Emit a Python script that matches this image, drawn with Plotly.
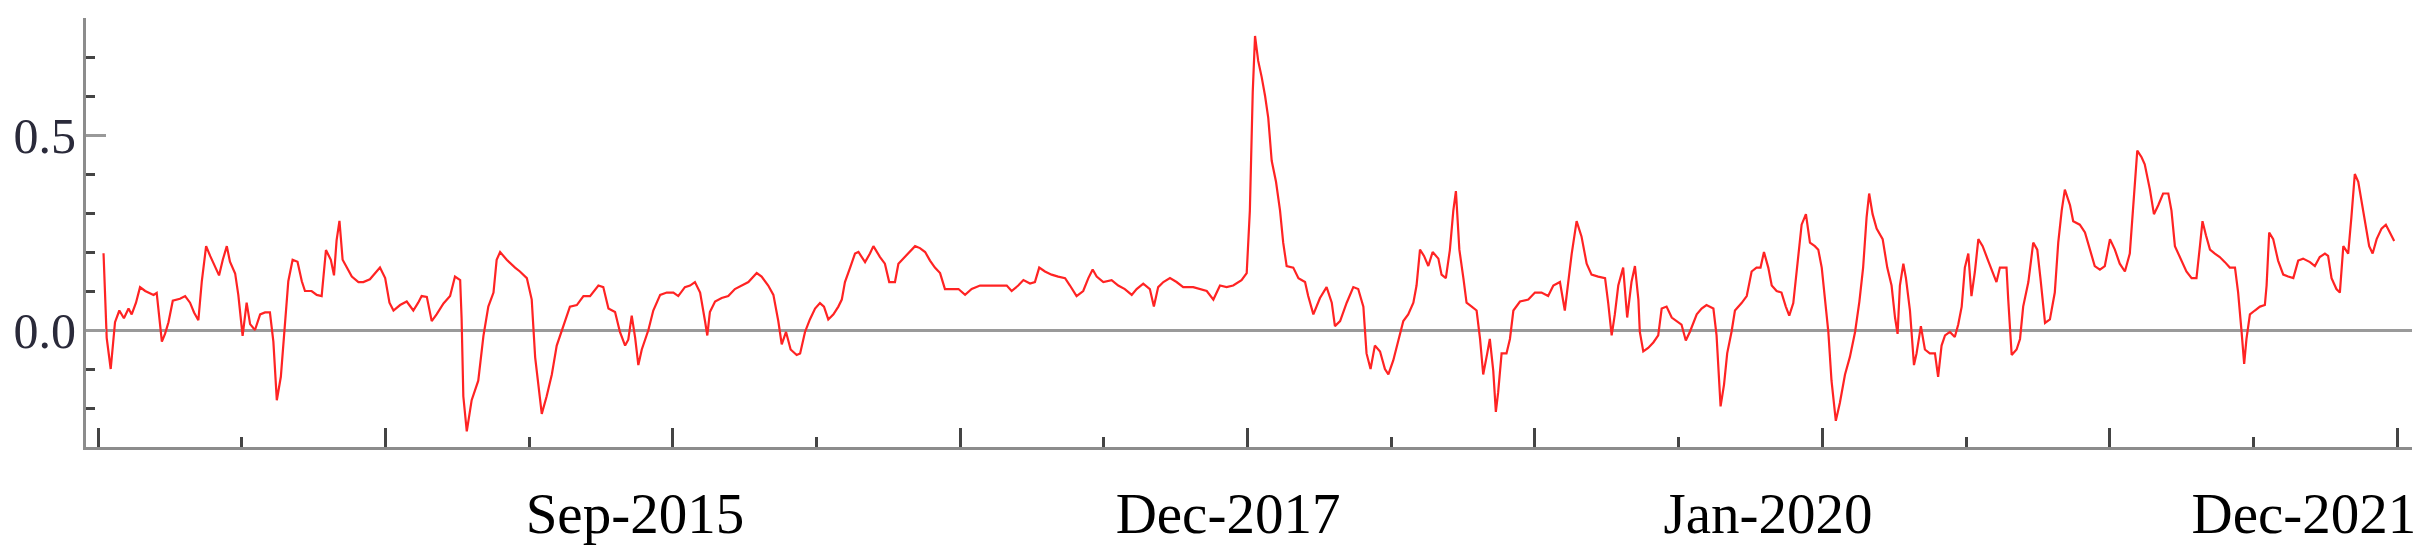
import plotly.graph_objects as go

# time in decimal years, value of the series
years = [
2014.019,2014.030,2014.044,2014.059,2014.074,2014.090,2014.106,2014.117,2014.132,2014.146,
2014.164,2014.193,2014.204,2014.222,2014.233,2014.245,2014.260,2014.285,2014.303,2014.320,
2014.334,2014.349,2014.361,2014.376,2014.390,2014.407,2014.421,2014.434,2014.448,2014.459,
2014.477,2014.488,2014.503,2014.517,2014.529,2014.546,2014.564,2014.581,2014.598,2014.610,
2014.622,2014.636,2014.651,2014.662,2014.677,2014.694,2014.709,2014.720,2014.743,2014.761,
2014.778,2014.793,2014.810,2014.821,2014.830,2014.840,2014.851,2014.865,2014.883,2014.906,
2014.923,2014.946,2014.964,2014.981,2014.999,2015.014,2015.028,2015.051,2015.074,2015.097,
2015.114,2015.126,2015.144,2015.161,2015.178,2015.202,2015.225,2015.242,2015.260,2015.265,
2015.271,2015.283,2015.300,2015.323,2015.341,2015.358,2015.376,2015.387,2015.399,2015.422,
2015.451,2015.468,2015.492,2015.509,2015.521,2015.544,2015.561,2015.579,2015.596,2015.619,
2015.642,2015.666,2015.689,2015.712,2015.741,2015.758,2015.776,2015.799,2015.816,2015.834,
2015.845,2015.857,2015.869,2015.880,2015.892,2015.915,2015.932,2015.956,2015.979,2016.002,
2016.019,2016.042,2016.060,2016.077,2016.095,2016.112,2016.120,2016.129,2016.147,2016.170,
2016.193,2016.216,2016.240,2016.263,2016.292,2016.309,2016.332,2016.350,2016.367,2016.379,
2016.394,2016.410,2016.431,2016.443,2016.460,2016.477,2016.495,2016.512,2016.526,2016.541,
2016.559,2016.576,2016.588,2016.599,2016.617,2016.634,2016.646,2016.669,2016.686,2016.698,
2016.721,2016.738,2016.753,2016.773,2016.785,2016.802,2016.820,2016.843,2016.860,2016.878,
2016.895,2016.912,2016.930,2016.947,2016.970,2016.994,2017.017,2017.040,2017.069,2017.115,
2017.162,2017.179,2017.202,2017.220,2017.243,2017.260,2017.275,2017.295,2017.318,2017.341,
2017.365,2017.382,2017.405,2017.428,2017.446,2017.461,2017.475,2017.498,2017.527,2017.550,
2017.573,2017.597,2017.614,2017.637,2017.660,2017.674,2017.689,2017.707,2017.730,2017.753,
2017.776,2017.811,2017.834,2017.858,2017.881,2017.904,2017.927,2017.950,2017.979,2017.997,
2018.008,2018.018,2018.026,2018.037,2018.049,2018.061,2018.072,2018.084,2018.099,2018.113,
2018.124,2018.136,2018.159,2018.177,2018.200,2018.211,2018.229,2018.252,2018.275,2018.293,
2018.304,2018.322,2018.345,2018.368,2018.385,2018.403,2018.414,2018.428,2018.443,2018.461,
2018.478,2018.490,2018.507,2018.525,2018.542,2018.559,2018.577,2018.588,2018.600,2018.614,
2018.629,2018.644,2018.664,2018.675,2018.690,2018.704,2018.716,2018.725,2018.737,2018.751,
2018.762,2018.780,2018.797,2018.809,2018.820,2018.834,2018.843,2018.855,2018.864,2018.872,
2018.884,2018.901,2018.913,2018.925,2018.948,2018.977,2019.000,2019.023,2019.046,2019.064,
2019.087,2019.104,2019.116,2019.128,2019.145,2019.162,2019.180,2019.197,2019.220,2019.244,
2019.255,2019.267,2019.278,2019.290,2019.307,2019.321,2019.336,2019.348,2019.360,2019.365,
2019.377,2019.394,2019.412,2019.429,2019.441,2019.458,2019.476,2019.493,2019.510,2019.525,
2019.539,2019.563,2019.580,2019.597,2019.621,2019.632,2019.646,2019.658,2019.669,2019.684,
2019.696,2019.719,2019.737,2019.754,2019.771,2019.785,2019.797,2019.812,2019.824,2019.841,
2019.858,2019.873,2019.885,2019.899,2019.913,2019.928,2019.943,2019.957,2019.974,2019.986,
2019.998,2020.009,2020.021,2020.032,2020.047,2020.061,2020.079,2020.096,2020.114,2020.129,
2020.142,2020.154,2020.163,2020.175,2020.189,2020.210,2020.226,2020.241,2020.253,2020.262,
2020.270,2020.282,2020.291,2020.305,2020.319,2020.328,2020.343,2020.357,2020.374,2020.392,
2020.403,2020.415,2020.427,2020.444,2020.461,2020.473,2020.485,2020.496,2020.508,2020.519,
2020.531,2020.543,2020.558,2020.577,2020.595,2020.606,2020.618,2020.641,2020.647,2020.659,
2020.676,2020.688,2020.699,2020.717,2020.734,2020.748,2020.759,2020.775,2020.792,2020.809,
2020.821,2020.833,2020.844,2020.862,2020.873,2020.896,2020.914,2020.931,2020.948,2020.966,
2020.983,2021.001,2021.018,2021.035,2021.053,2021.070,2021.082,2021.096,2021.111,2021.122,
2021.140,2021.154,2021.169,2021.186,2021.204,2021.215,2021.227,2021.238,2021.250,2021.267,
2021.285,2021.302,2021.314,2021.323,2021.335,2021.349,2021.366,2021.383,2021.401,2021.418,
2021.436,2021.447,2021.459,2021.468,2021.476,2021.488,2021.505,2021.523,2021.540,2021.546,
2021.555,2021.569,2021.586,2021.604,2021.621,2021.639,2021.656,2021.673,2021.697,2021.714,
2021.731,2021.749,2021.760,2021.772,2021.789,2021.801,2021.813,2021.830,2021.841,2021.853,
2021.865,2021.876,2021.888,2021.903,2021.915,2021.929,2021.946,2021.961,2021.975,2021.990,
]
values = [
0.197,-0.02,-0.10,0.02,0.05,0.03,0.055,0.04,0.07,0.11,
0.10,0.09,0.095,-0.03,-0.01,0.02,0.075,0.08,0.087,0.07,
0.045,0.025,0.125,0.215,0.19,0.16,0.14,0.18,0.215,0.175,
0.145,0.09,-0.015,0.07,0.015,0.0,0.04,0.045,0.045,-0.03,
-0.18,-0.12,0.03,0.125,0.18,0.175,0.125,0.10,0.10,0.09,
0.087,0.205,0.18,0.14,0.23,0.28,0.18,0.16,0.137,0.123,
0.123,0.13,0.146,0.16,0.133,0.07,0.05,0.064,0.073,0.05,
0.07,0.087,0.085,0.023,0.04,0.068,0.087,0.137,0.128,0.03,
-0.17,-0.26,-0.18,-0.13,-0.015,0.06,0.096,0.18,0.20,0.18,
0.16,0.15,0.133,0.078,-0.07,-0.215,-0.17,-0.114,-0.04,0.01,
0.06,0.064,0.087,0.087,0.114,0.11,0.055,0.046,-0.005,-0.04,
-0.025,0.037,-0.02,-0.09,-0.05,0.0,0.05,0.09,0.096,0.096,
0.087,0.11,0.114,0.123,0.096,0.023,-0.014,0.046,0.073,0.082,
0.087,0.105,0.114,0.123,0.146,0.137,0.114,0.09,0.023,-0.037,
-0.005,-0.05,-0.064,-0.06,-0.005,0.027,0.055,0.069,0.06,0.027,
0.04,0.06,0.078,0.123,0.16,0.196,0.20,0.174,0.196,0.215,
0.187,0.17,0.123,0.123,0.17,0.183,0.196,0.215,0.21,0.20,
0.178,0.16,0.146,0.105,0.105,0.105,0.09,0.105,0.114,0.114,
0.114,0.10,0.114,0.128,0.119,0.123,0.16,0.15,0.142,0.137,
0.133,0.114,0.087,0.10,0.133,0.155,0.137,0.123,0.128,0.114,
0.105,0.09,0.105,0.119,0.105,0.06,0.11,0.123,0.133,0.123,
0.11,0.11,0.105,0.10,0.078,0.114,0.11,0.114,0.128,0.146,
0.306,0.61,0.754,0.69,0.649,0.60,0.544,0.434,0.38,0.306,
0.224,0.164,0.16,0.133,0.123,0.087,0.04,0.082,0.11,0.07,
0.01,0.023,0.07,0.11,0.105,0.06,-0.06,-0.10,-0.04,-0.055,
-0.10,-0.114,-0.078,-0.023,0.023,0.04,0.07,0.114,0.206,0.19,
0.164,0.20,0.183,0.142,0.133,0.205,0.306,0.356,0.206,0.133,
0.07,0.06,0.05,-0.023,-0.114,-0.06,-0.023,-0.105,-0.21,-0.16,
-0.06,-0.06,-0.023,0.05,0.073,0.078,0.096,0.096,0.087,0.114,
0.123,0.05,0.123,0.196,0.279,0.24,0.17,0.142,0.137,0.133,
0.069,-0.014,0.04,0.114,0.16,0.032,0.123,0.164,0.078,-0.005,
-0.055,-0.046,-0.032,-0.014,0.055,0.06,0.032,0.023,0.014,-0.027,
-0.005,0.04,0.055,0.064,0.055,-0.014,-0.196,-0.14,-0.06,-0.005,
0.05,0.069,0.087,0.15,0.16,0.16,0.20,0.16,0.114,0.10,
0.096,0.06,0.037,0.069,0.16,0.27,0.297,0.224,0.215,0.206,
0.16,0.078,-0.005,-0.13,-0.233,-0.187,-0.114,-0.069,-0.005,0.073,
0.16,0.288,0.35,0.297,0.26,0.233,0.16,0.114,0.032,-0.01,
0.114,0.17,0.133,0.05,-0.09,-0.06,0.01,-0.05,-0.06,-0.06,
-0.12,-0.04,-0.014,-0.005,-0.018,0.014,0.06,0.16,0.196,0.087,
0.15,0.233,0.215,0.178,0.142,0.123,0.16,0.16,0.078,-0.064,
-0.05,-0.023,0.06,0.123,0.224,0.206,0.133,0.018,0.027,0.096,
0.224,0.306,0.36,0.32,0.279,0.27,0.25,0.206,0.164,0.155,
0.164,0.233,0.206,0.17,0.15,0.196,0.329,0.46,0.443,0.425,
0.36,0.297,0.32,0.35,0.35,0.306,0.215,0.196,0.178,0.15,
0.133,0.133,0.215,0.279,0.243,0.206,0.196,0.187,0.174,0.16,
0.16,0.096,-0.005,-0.087,-0.023,0.04,0.05,0.06,0.064,0.114,
0.25,0.233,0.178,0.142,0.137,0.133,0.178,0.183,0.174,0.164,
0.187,0.196,0.19,0.133,0.105,0.096,0.215,0.196,0.288,0.40,
0.38,0.333,0.288,0.215,0.196,0.233,0.26,0.27,0.25,0.228,
]

label_pos = [2015.868, 2017.932, 2019.811, 2021.676]
label_text = ["Sep-2015", "Dec-2017", "Jan-2020", "Dec-2021"]
y_ticks = [0.0, 0.5]
y_tick_text = ["0.0", "0.5"]
y_minor = [-0.2, -0.1, 0.1, 0.2, 0.3, 0.4, 0.6, 0.7, 0.8]

x_range = [2013.958, 2022.052]
y_range = [-0.30, 0.80]

fig = go.Figure()
fig.add_trace(go.Scatter(x=years, y=values, mode="lines",
                         line=dict(color="rgb(255,35,35)", width=2.2),
                         showlegend=False, hoverinfo="skip"))
# invisible trace on xaxis2 that carries the date labels
fig.add_trace(go.Scatter(x=[x_range[0]], y=[0], xaxis="x2", mode="markers",
                         marker=dict(opacity=0), showlegend=False, hoverinfo="skip"))

fig.update_layout(
    width=2425, height=554,
    margin=dict(l=86, r=13, t=18, b=107),
    paper_bgcolor="white", plot_bgcolor="white",
    font=dict(family="Liberation Serif, Times New Roman, serif", color="black"),
    xaxis=dict(range=x_range, showgrid=False, zeroline=False, automargin=False,
               showline=True, linecolor="#8c8c8c", linewidth=3,
               ticks="inside", tickmode="linear", tick0=2014, dtick=1,
               ticklen=19, tickwidth=3, tickcolor="#444444",
               minor=dict(ticks="inside", dtick=0.5, tick0=2014, ticklen=10,
                          tickwidth=3, tickcolor="#444444"),
               showticklabels=False),
    xaxis2=dict(range=x_range, overlaying="x", side="bottom", anchor="y",
                automargin=False,
                showgrid=False, zeroline=False, showline=False, ticks="",
                tickmode="array", tickvals=label_pos, ticktext=label_text,
                tickfont=dict(size=57, color="black"), ticklabelstandoff=28),
    yaxis=dict(range=y_range, showgrid=False, automargin=False,
               zeroline=True, zerolinecolor="#9a9a9a", zerolinewidth=3,
               showline=True, linecolor="#8c8c8c", linewidth=3,
               ticks="inside", tickmode="array", tickvals=y_ticks,
               ticktext=y_tick_text, ticklen=20, tickwidth=3, tickcolor="#999999",
               minor=dict(ticks="inside", tickmode="array", tickvals=y_minor,
                          ticklen=9, tickwidth=3, tickcolor="#444444"),
               tickfont=dict(size=50, color="#2a2a3a"), ticklabelstandoff=-3),
)

fig.write_html("out.html",
               config={"displayModeBar": False},
               post_script="document.body.style.margin='0';document.body.style.overflow='hidden';")
